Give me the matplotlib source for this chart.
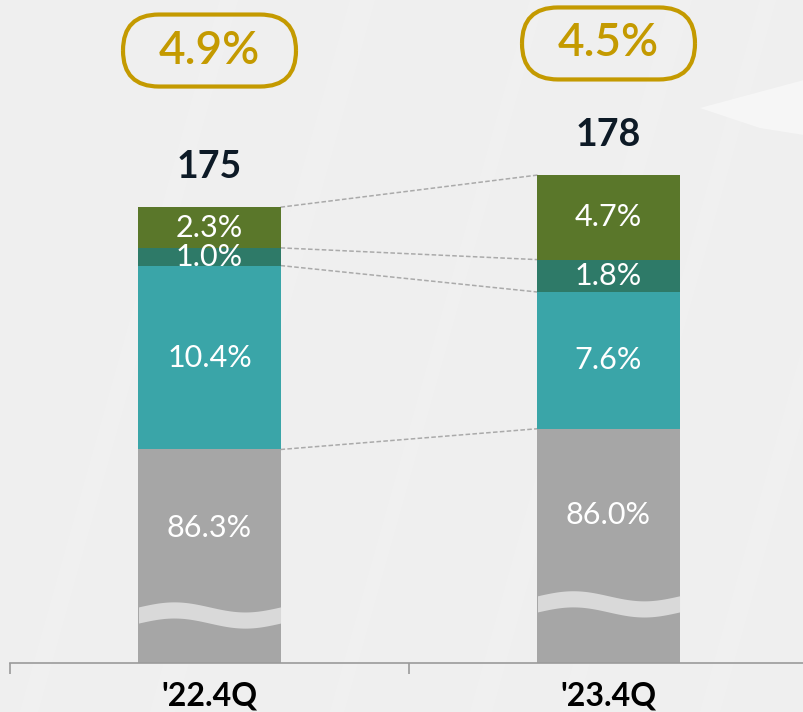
import numpy as np
import matplotlib.pyplot as plt
from matplotlib.patches import FancyBboxPatch, Polygon

plt.rcParams['font.family'] = ['Lato', 'DejaVu Sans']

periods = ["'22.4Q", "'23.4Q"]
totals = [175, 178]
growth = ['4.9%', '4.5%']
# shares of total, bottom to top
share_gray = [86.3, 86.0]
share_teal = [10.4, 7.6]
share_dark = [1.0, 1.8]
share_olive = [2.3, 4.7]

colors = ['#a6a6a6', '#3aa5a8', '#2e7a68', '#5a772a']
cut = 129.9          # hidden part of the gray segment (broken axis)
bar_w = 0.356
pill_y = [60.6, 61.3]
break_y = [4.75, 5.85]

fig = plt.figure(figsize=(8.04, 7.12), dpi=100)
fig.patch.set_facecolor('#efefef')

# faint background streaks
W, H = 804.0, 712.0
for xb, w, a in [(20, 18, 0.12), (150, 25, 0.1), (330, 14, 0.12), (470, 22, 0.1),
                 (560, 16, 0.12), (700, 20, 0.1)]:
    pts = [(xb, 0), (xb + w, 0), (xb + w + 200, H), (xb + 200, H)]
    fig.patches.append(Polygon([(p[0] / W, p[1] / H) for p in pts], closed=True,
                               transform=fig.transFigure, facecolor='white',
                               alpha=a, lw=0, zorder=-2))
wedge = [(700, H - 108), (W, H - 80), (W, H - 135), (760, H - 128)]
fig.patches.append(Polygon([(p[0] / W, p[1] / H) for p in wedge], closed=True,
                           transform=fig.transFigure, facecolor='white',
                           alpha=0.45, lw=0, zorder=-2))

ax = fig.add_axes([10 / W, 49 / H, 794 / W, 663 / H])
ax.set_facecolor('none')
ax.set_xlim(-0.5, -0.5 + 794 / 399)
ax.set_ylim(0, 65.6)

x = np.arange(len(periods))
tot = np.array(totals, dtype=float)
segs = [tot * np.array(share_gray) / 100 - cut,
        tot * np.array(share_teal) / 100,
        tot * np.array(share_dark) / 100,
        tot * np.array(share_olive) / 100]
shares = [share_gray, share_teal, share_dark, share_olive]

bottom = np.zeros(len(x))
bounds = []
for i, (vals, col) in enumerate(zip(segs, colors)):
    ax.bar(x, vals, bar_w, bottom=bottom, color=col, edgecolor='none', zorder=2)
    for j in range(len(x)):
        yc = bottom[j] + vals[j] * (0.63 if i == 0 else 0.5)
        ax.text(x[j], yc, f'{shares[i][j]:.1f}%', ha='center', va='center',
                color='white', fontsize=22, zorder=4)
    bottom = bottom + vals
    bounds.append(bottom.copy())

# wavy break in the gray segment
for j in range(len(x)):
    xs = np.linspace(x[j] - bar_w / 2, x[j] + bar_w / 2, 100)
    t = (xs - xs[0]) / bar_w
    yc = break_y[j] + 0.5 * np.sin(2 * np.pi * t)
    ax.fill_between(xs, yc - 0.8, yc + 0.8, color='#d9d9d9', lw=0, zorder=3)

# dashed connectors between bars
for b in [bounds[3], bounds[2], bounds[1], bounds[0]]:
    ax.plot([x[0] + bar_w / 2, x[1] - bar_w / 2], [b[0], b[1]], ls=(0, (3, 1.5)),
            color='#aaaaaa', lw=1.1, zorder=1)

# totals on top
for j in range(len(x)):
    ax.annotate(str(totals[j]), (x[j], bounds[3][j]), xytext=(0, 29),
                textcoords='offset points', ha='center', va='center',
                fontsize=27, fontweight='bold', color='#0d1a26')

# growth pills
fig.canvas.draw()
for j in range(len(x)):
    cx, cy = ax.transData.transform((x[j], pill_y[j])) / fig.dpi
    pw, ph = 1.73, 0.72
    pill = FancyBboxPatch((cx - pw / 2, cy - ph / 2), pw, ph,
                          boxstyle=f'round,pad=0,rounding_size={ph / 2}',
                          transform=fig.dpi_scale_trans, facecolor='none',
                          edgecolor='#c49a00', lw=3, zorder=5)
    fig.patches.append(pill)
    ax.text(x[j], pill_y[j], growth[j], ha='center', va='center',
            fontsize=33, fontweight='semibold', color='#c49a00', zorder=6)

for s in ['left', 'right', 'top']:
    ax.spines[s].set_visible(False)
ax.spines['bottom'].set_color('#9a9a9a')
ax.spines['bottom'].set_linewidth(1.2)
ax.set_yticks([])
ax.set_xticks(x)
ax.set_xticklabels(periods, fontsize=23, color='#000000', fontweight='bold',
                   family=['Liberation Sans Narrow', 'Lato', 'DejaVu Sans'])
ax.set_xticks([-0.5, 0.5], minor=True)
ax.tick_params(axis='x', which='major', length=0, pad=13)
ax.tick_params(axis='x', which='minor', length=8, color='#9a9a9a', width=1.2)

fig.savefig('out.png', dpi=100, facecolor=fig.get_facecolor())
